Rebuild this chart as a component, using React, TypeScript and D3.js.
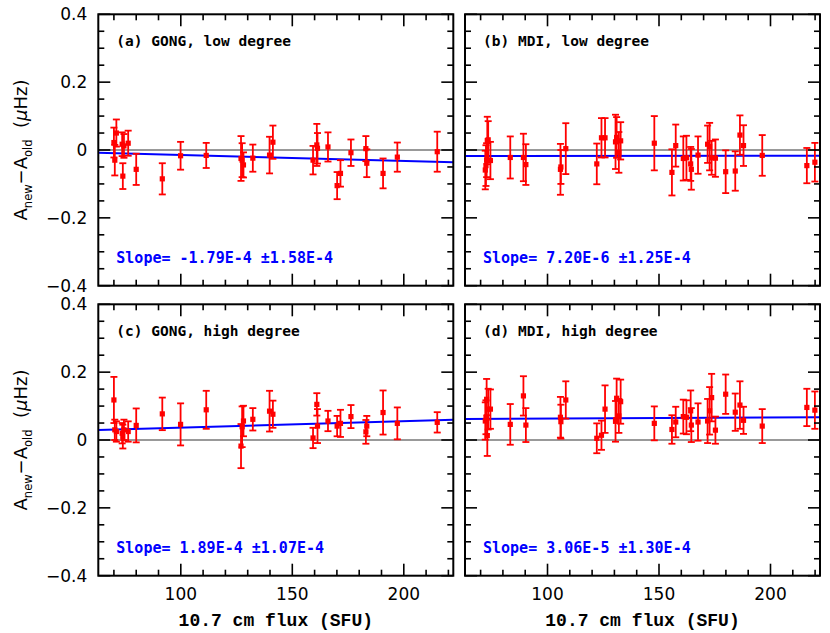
import React, { useRef, useEffect } from 'react';
import * as d3 from 'd3';

// 10.7 cm flux for the GONG and MDI data sets
const gongFlux = [70.0, 70.4, 71.1, 73.7, 74.0, 74.5, 76.4, 80.0, 91.7, 99.9, 111.4, 127.0, 127.5, 128.1, 132.3, 139.8, 141.3, 159.3, 161.0, 161.3, 166.0, 170.1, 171.6, 176.3, 183.0, 183.4, 190.7, 197.1, 215.0];
const gongLowDelta = [0.022, -0.030, 0.050, 0.017, -0.077, 0.012, 0.020, -0.057, -0.085, -0.017, -0.016, -0.025, -0.030, -0.044, -0.024, -0.015, 0.023, -0.030, 0.015, 0.005, 0.009, -0.105, -0.069, -0.008, 0.004, -0.039, -0.069, -0.021, -0.005];
const gongLowErr = [0.044, 0.045, 0.040, 0.035, 0.038, 0.035, 0.037, 0.046, 0.046, 0.041, 0.037, 0.066, 0.050, 0.037, 0.040, 0.054, 0.049, 0.042, 0.062, 0.045, 0.043, 0.040, 0.039, 0.039, 0.037, 0.041, 0.044, 0.043, 0.059];
const gongHighDelta = [0.118, 0.030, 0.025, 0.020, 0.010, 0.030, 0.025, 0.043, 0.077, 0.046, 0.089, -0.018, 0.039, 0.056, 0.061, 0.085, 0.076, 0.006, 0.105, 0.041, 0.056, 0.041, 0.049, 0.069, 0.024, 0.041, 0.081, 0.049, 0.052];
const gongHighErr = [0.068, 0.030, 0.030, 0.030, 0.035, 0.030, 0.030, 0.050, 0.048, 0.062, 0.056, 0.065, 0.060, 0.045, 0.033, 0.060, 0.040, 0.030, 0.033, 0.050, 0.030, 0.030, 0.040, 0.034, 0.035, 0.030, 0.065, 0.047, 0.030];

const mdiFlux = [72.1, 72.4, 72.7, 73.0, 73.4, 74.4, 83.3, 89.2, 90.3, 105.8, 106.0, 108.2, 122.1, 124.2, 125.8, 130.5, 131.0, 132.0, 132.8, 147.9, 155.8, 157.5, 160.9, 162.3, 164.2, 164.5, 167.5, 171.8, 172.7, 173.6, 175.3, 179.9, 184.2, 186.3, 187.9, 196.3, 216.3, 219.9];
const mdiLowDelta = [-0.059, -0.046, -0.030, 0.028, 0.030, -0.031, -0.022, -0.022, -0.043, -0.057, -0.050, 0.004, -0.041, 0.036, 0.036, 0.024, 0.037, -0.007, 0.027, 0.020, -0.066, 0.013, -0.025, -0.023, -0.041, -0.057, -0.015, 0.017, 0.010, -0.023, -0.024, -0.064, -0.062, 0.044, 0.013, -0.016, -0.046, -0.036];
const mdiLowErr = [0.057, 0.060, 0.050, 0.070, 0.055, 0.055, 0.062, 0.070, 0.060, 0.075, 0.050, 0.075, 0.060, 0.058, 0.058, 0.080, 0.060, 0.060, 0.055, 0.080, 0.068, 0.062, 0.065, 0.065, 0.050, 0.060, 0.055, 0.055, 0.070, 0.050, 0.055, 0.063, 0.058, 0.058, 0.060, 0.060, 0.052, 0.057];
const mdiHighDelta = [0.056, 0.067, 0.120, 0.013, 0.091, 0.091, 0.046, 0.130, 0.044, 0.067, 0.054, 0.118, 0.005, 0.014, 0.091, 0.055, 0.123, 0.071, 0.113, 0.049, 0.031, 0.053, 0.069, 0.067, 0.086, 0.044, 0.053, 0.056, 0.086, 0.125, 0.029, 0.135, 0.082, 0.103, 0.058, 0.041, 0.096, 0.088];
const mdiHighErr = [0.055, 0.050, 0.060, 0.060, 0.060, 0.058, 0.060, 0.058, 0.050, 0.060, 0.050, 0.055, 0.044, 0.043, 0.070, 0.060, 0.058, 0.050, 0.065, 0.050, 0.042, 0.045, 0.050, 0.050, 0.060, 0.050, 0.055, 0.065, 0.070, 0.070, 0.040, 0.058, 0.055, 0.070, 0.040, 0.050, 0.055, 0.055];

const panelLabels = ['(a) GONG, low degree', '(b) MDI, low degree', '(c) GONG, high degree', '(d) MDI, high degree'];
const slopeLabels = ['Slope= -1.79E-4 ±1.58E-4', 'Slope= 7.20E-6 ±1.25E-4', 'Slope= 1.89E-4 ±1.07E-4', 'Slope= 3.06E-5 ±1.30E-4'];
const fitSlopes = [-1.79e-4, 7.2e-6, 1.89e-4, 3.06e-5];
const fitIntercepts = [0.0033, -0.0185, 0.0176, 0.060];

const xDomain = [63, 222.2];
const yDomain = [-0.4, 0.4];
const yTickValues = [-0.4, -0.2, 0, 0.2, 0.4];
const xTickValues = [100, 150, 200];
const xTitle = '10.7 cm flux (SFU)';

const App: React.FC = () => {
  const svgRef = useRef<SVGSVGElement | null>(null);

  useEffect(() => {
    if (!svgRef.current) return;
    const svg = d3.select(svgRef.current);
    svg.selectAll('*').remove();

    const cols = [[98.3, 453.3], [465, 820]];
    const rows = [[14.3, 285.7], [304.3, 575.7]];

    const panels = [
      { flux: gongFlux, delta: gongLowDelta, err: gongLowErr },
      { flux: mdiFlux, delta: mdiLowDelta, err: mdiLowErr },
      { flux: gongFlux, delta: gongHighDelta, err: gongHighErr },
      { flux: mdiFlux, delta: mdiHighDelta, err: mdiHighErr },
    ];

    const tickFont = 'DejaVu Sans, sans-serif';
    const monoFont = 'DejaVu Sans Mono, monospace';

    panels.forEach((p, i) => {
      const col = i % 2;
      const row = Math.floor(i / 2);
      const [x0, x1] = cols[col];
      const [y0, y1] = rows[row];

      const x = d3.scaleLinear().domain(xDomain).range([x0, x1]);
      const y = d3.scaleLinear().domain(yDomain).range([y1, y0]);

      const g = svg.append('g');

      // zero reference line
      g.append('line')
        .attr('x1', x0).attr('x2', x1)
        .attr('y1', y(0)).attr('y2', y(0))
        .attr('stroke', '#999').attr('stroke-width', 2);

      // fitted line
      const line = d3.line<number>()
        .x(d => x(d))
        .y(d => y(fitIntercepts[i] + fitSlopes[i] * d));
      g.append('path')
        .datum(xDomain)
        .attr('fill', 'none')
        .attr('stroke', '#0000ff')
        .attr('stroke-width', 2)
        .attr('d', line);

      // error bars and points
      const pts = p.flux.map((f, k) => ({ f, v: p.delta[k], e: p.err[k] }));
      const eb = g.append('g').attr('stroke', '#ff0000').attr('stroke-width', 1.8);
      pts.forEach(d => {
        const cx = x(d.f);
        eb.append('line').attr('x1', cx).attr('x2', cx).attr('y1', y(d.v - d.e)).attr('y2', y(d.v + d.e));
        eb.append('line').attr('x1', cx - 3.5).attr('x2', cx + 3.5).attr('y1', y(d.v - d.e)).attr('y2', y(d.v - d.e));
        eb.append('line').attr('x1', cx - 3.5).attr('x2', cx + 3.5).attr('y1', y(d.v + d.e)).attr('y2', y(d.v + d.e));
      });
      g.append('g').selectAll('rect')
        .data(pts)
        .join('rect')
        .attr('x', d => x(d.f) - 2.6)
        .attr('y', d => y(d.v) - 2.6)
        .attr('width', 5.2)
        .attr('height', 5.2)
        .attr('fill', '#ff0000');

      // ticks on all four sides: minor every 0.05 / 10 SFU, major every 0.2 / 50 SFU
      const ticks = g.append('g').attr('stroke', '#000').attr('stroke-width', 1.6);
      d3.range(-8, 9).forEach(k => {
        const v = k * 0.05;
        const len = k % 4 === 0 ? 12 : 6;
        ticks.append('line').attr('x1', x0).attr('x2', x0 + len).attr('y1', y(v)).attr('y2', y(v));
        ticks.append('line').attr('x1', x1).attr('x2', x1 - len).attr('y1', y(v)).attr('y2', y(v));
      });
      d3.range(70, 221, 10).forEach(v => {
        const len = v % 50 === 0 ? 12 : 6;
        ticks.append('line').attr('x1', x(v)).attr('x2', x(v)).attr('y1', y0).attr('y2', y0 + len);
        ticks.append('line').attr('x1', x(v)).attr('x2', x(v)).attr('y1', y1).attr('y2', y1 - len);
      });

      // frame
      g.append('rect')
        .attr('x', x0).attr('y', y0)
        .attr('width', x1 - x0).attr('height', y1 - y0)
        .attr('fill', 'none').attr('stroke', '#000').attr('stroke-width', 2);

      // y tick labels (left column only)
      if (col === 0) {
        g.append('g').selectAll('text')
          .data(yTickValues)
          .join('text')
          .attr('x', x0 - 11)
          .attr('y', d => y(d) + 6)
          .attr('text-anchor', 'end')
          .attr('font-family', tickFont)
          .attr('font-size', 17)
          .text(d => (d === 0 ? '0' : d3.format('.1f')(d).replace('-', '\u2212')));

        const yc = (y0 + y1) / 2;
        const t = g.append('text')
          .attr('transform', `translate(26.5,${yc}) rotate(-90)`)
          .attr('text-anchor', 'middle')
          .attr('font-family', tickFont)
          .attr('font-size', 18);
        t.append('tspan').text('A');
        t.append('tspan').attr('font-size', 11.5).attr('dy', 5).text('new');
        t.append('tspan').attr('dy', -5).text('\u2212A');
        t.append('tspan').attr('font-size', 11.5).attr('dy', 5).text('old');
        t.append('tspan').attr('dy', -5).text('\u00a0\u00a0(');
        t.append('tspan').attr('font-style', 'italic').text('\u03bc');
        t.append('tspan').text('Hz)');
      }

      // x tick labels and title (bottom row only)
      if (row === 1) {
        g.append('g').selectAll('text')
          .data(xTickValues)
          .join('text')
          .attr('x', d => x(d))
          .attr('y', y1 + 24)
          .attr('text-anchor', 'middle')
          .attr('font-family', tickFont)
          .attr('font-size', 17)
          .text(d => String(d));

        g.append('text')
          .attr('x', (x0 + x1) / 2)
          .attr('y', y1 + 50)
          .attr('text-anchor', 'middle')
          .attr('font-family', 'Liberation Mono, monospace')
          .attr('font-weight', 'bold')
          .attr('font-size', 18)
          .text(xTitle);
      }

      // panel label and slope text
      g.append('text')
        .attr('x', x0 + 18)
        .attr('y', y0 + 32)
        .attr('font-family', monoFont)
        .attr('font-weight', 'bold')
        .attr('font-size', 14.5)
        .attr('fill', '#000')
        .text(panelLabels[i]);

      g.append('text')
        .attr('x', x0 + 18)
        .attr('y', y0 + 248.5)
        .attr('font-family', monoFont)
        .attr('font-weight', 'bold')
        .attr('font-size', 15)
        .attr('fill', '#0000ff')
        .text(slopeLabels[i]);
    });
  }, []);

  return (
    <svg
      ref={svgRef}
      width={830}
      height={633}
      style={{ position: 'absolute', left: 0, top: 0, background: '#fff' }}
    />
  );
};

export default App;
